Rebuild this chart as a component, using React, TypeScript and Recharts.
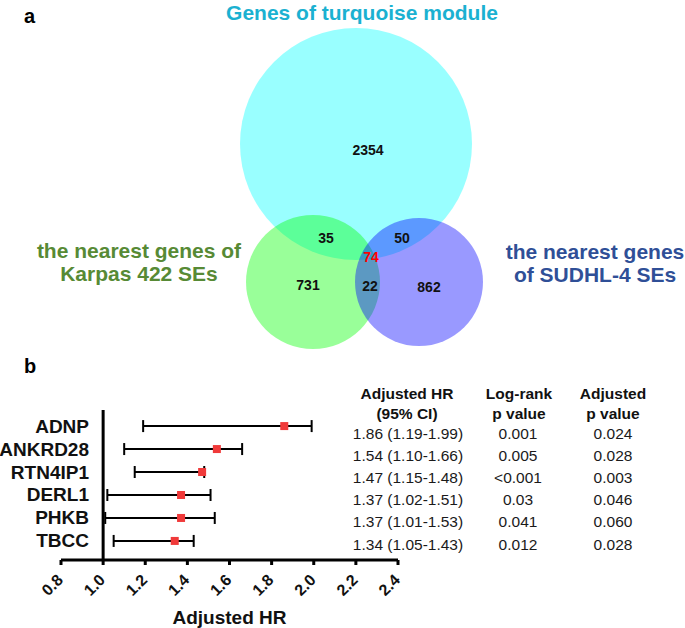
import { ScatterChart, Scatter, XAxis, YAxis, ErrorBar, ReferenceLine, Label } from 'recharts';

const FONT = "'Liberation Sans', Arial, Helvetica, sans-serif";

// ---- panel a: Venn diagram (layout in diagram units) ----
const vennSetNames = ['turquoise module', 'Karpas 422 SEs', 'SUDHL-4 SEs'];
const vennCx = [356, 313, 419];
const vennCy = [144, 282, 282];
const vennR = [116, 67, 64];
const vennColors = ['#00ffff', '#00ff00', '#0000ff'];

const vennCounts = ['2354', '35', '50', '74', '731', '22', '862'];
const vennCountX = [368, 326, 402, 371, 308, 370, 429];
const vennCountY = [150, 238, 238, 257, 285, 286, 287];

const vennLabelLines = [
  ['Genes of turquoise module'],
  ['the nearest genes of', 'Karpas 422 SEs'],
  ['the nearest genes', 'of SUDHL-4 SEs'],
];
const vennLabelX = [362, 139, 595];
const vennLabelY = [20, 258, 259];
const vennLabelColors = ['#1bb1d1', '#578a35', '#2f4f97'];

// ---- panel b: forest plot ----
const genes = ['ADNP', 'ANKRD28', 'RTN4IP1', 'DERL1', 'PHKB', 'TBCC'];
const hr = [1.86, 1.54, 1.47, 1.37, 1.37, 1.34];
const ciLow = [1.19, 1.1, 1.15, 1.02, 1.01, 1.05];
const ciHigh = [1.99, 1.66, 1.48, 1.51, 1.53, 1.43];
const logRankP = ['0.001', '0.005', '<0.001', '0.03', '0.041', '0.012'];
const adjustedP = ['0.024', '0.028', '0.003', '0.046', '0.060', '0.028'];
const hrTicks = [0.8, 1.0, 1.2, 1.4, 1.6, 1.8, 2.0, 2.2, 2.4];

const VENN_W = 685;
const VENN_H = 360;
const VENN_K = VENN_W / 685; // px per diagram unit

const circleData = vennSetNames.map((name, i) => ({
  name, x: vennCx[i], y: vennCy[i], r: vennR[i], fill: vennColors[i],
}));
const countData = vennCounts.map((c, i) => ({ label: c, x: vennCountX[i], y: vennCountY[i], red: c === '74' }));
const labelData = vennLabelLines.map((lines, i) => ({ lines, x: vennLabelX[i], y: vennLabelY[i], color: vennLabelColors[i] }));

const forestData = genes.map((g, i) => ({
  gene: g,
  row: i,
  hr: hr[i],
  err: [+(hr[i] - ciLow[i]).toFixed(2), +(ciHigh[i] - hr[i]).toFixed(2)],
}));

const VennCircle = (p: any) => (
  <circle cx={p.cx} cy={p.cy} r={p.payload.r * VENN_K} fill={p.payload.fill} fillOpacity={0.4} />
);

const CountText = (p: any) => (
  <text x={p.cx} y={p.cy} textAnchor="middle" dominantBaseline="central" fontFamily={FONT}
    fontWeight="bold" fontSize={14} fill={p.payload.red ? '#ff0000' : '#111'}>
    {p.payload.label}
  </text>
);

const SetLabel = (p: any) => (
  <text x={p.cx} y={p.cy} textAnchor="middle" fontFamily={FONT} fontWeight="bold" fontSize={21} fill={p.payload.color}>
    {p.payload.lines.map((l: string, i: number) => (
      <tspan key={i} x={p.cx} dy={i === 0 ? 0 : 23}>{l}</tspan>
    ))}
  </text>
);

const HrTick = (p: any) => {
  const ax = p.x + 3;
  const ay = p.y + 14;
  return (
    <text x={ax} y={ay} textAnchor="end" transform={`rotate(-45, ${ax}, ${ay})`}
      fontFamily={FONT} fontWeight="bold" fontSize={16} fill="#111">
      {Number(p.payload.value).toFixed(1)}
    </text>
  );
};

const GeneTick = (p: any) => (
  <text x={p.x + 36} y={p.y} textAnchor="end" dominantBaseline="central"
    fontFamily={FONT} fontWeight="bold" fontSize={19} fill="#111">
    {genes[p.payload.value]}
  </text>
);

const HrSquare = (p: any) => (
  <rect x={p.cx - 4} y={p.cy - 4} width={8} height={8} fill="#f03a3a" />
);

const tableRowY = (i: number) => 433 + i * 22.2;

export default function App() {
  return (
    <div style={{ position: 'absolute', left: 0, top: 0, width: 685, height: 628, background: '#fff', fontFamily: FONT }}>
      <div style={{ position: 'absolute', left: 0, top: 0 }}>
        <ScatterChart width={VENN_W} height={VENN_H} margin={{ top: 0, right: 0, bottom: 0, left: 0 }}>
          <XAxis type="number" dataKey="x" domain={[0, 685]} hide />
          <YAxis type="number" dataKey="y" domain={[0, 360]} reversed hide />
          <Scatter data={circleData} shape={VennCircle} isAnimationActive={false} />
          <Scatter data={countData} shape={CountText} isAnimationActive={false} />
          <Scatter data={labelData} shape={SetLabel} isAnimationActive={false} />
        </ScatterChart>
      </div>

      <div style={{ position: 'absolute', left: 0, top: 380 }}>
        <ScatterChart width={685} height={248} margin={{ top: 30, right: 287, bottom: 0, left: 0 }}>
          <XAxis
            type="number" dataKey="hr" domain={[0.8, 2.4]} ticks={hrTicks} interval={0}
            height={68} tickSize={5} tickMargin={2}
            axisLine={{ stroke: '#000', strokeWidth: 3 }}
            tickLine={{ stroke: '#000', strokeWidth: 3 }}
            tick={HrTick}
          >
            <Label value="Adjusted HR" position="insideBottom" offset={4}
              style={{ fontFamily: FONT, fontWeight: 'bold', fontSize: 19, fill: '#111' }} />
          </XAxis>
          <YAxis
            type="number" dataKey="row" domain={[-0.7, 5.83]} reversed ticks={[0, 1, 2, 3, 4, 5]}
            interval={0} width={61} axisLine={false} tickLine={false} tick={GeneTick}
          />
          <ReferenceLine x={1} stroke="#000" strokeWidth={3} />
          <Scatter data={forestData} shape={HrSquare} isAnimationActive={false}>
            <ErrorBar dataKey="err" direction="x" width={6} stroke="#000" strokeWidth={2} isAnimationActive={false} />
          </Scatter>
        </ScatterChart>
      </div>

      <svg width={685} height={628} style={{ position: 'absolute', left: 0, top: 0, pointerEvents: 'none' }}
        fontFamily={FONT}>
        <text x={24} y={23} fontWeight="bold" fontSize={20} fill="#000">a</text>
        <text x={24} y={373} fontWeight="bold" fontSize={20} fill="#000">b</text>

        <g fontWeight="bold" fontSize={15.5} fill="#111" textAnchor="middle" dominantBaseline="central">
          <text x={407} y={393}>Adjusted HR</text>
          <text x={407} y={413}>(95% CI)</text>
          <text x={519} y={393}>Log-rank</text>
          <text x={519} y={413}>p value</text>
          <text x={613} y={393}>Adjusted</text>
          <text x={613} y={413}>p value</text>
        </g>
        <g fontSize={15.5} fill="#1a1a1a" textAnchor="middle" dominantBaseline="central">
          {genes.map((g, i) => (
            <g key={g}>
              <text x={408} y={tableRowY(i)}>
                {`${hr[i].toFixed(2)} (${ciLow[i].toFixed(2)}-${ciHigh[i].toFixed(2)})`}
              </text>
              <text x={518} y={tableRowY(i)}>{logRankP[i]}</text>
              <text x={613} y={tableRowY(i)}>{adjustedP[i]}</text>
            </g>
          ))}
        </g>
      </svg>
    </div>
  );
}
